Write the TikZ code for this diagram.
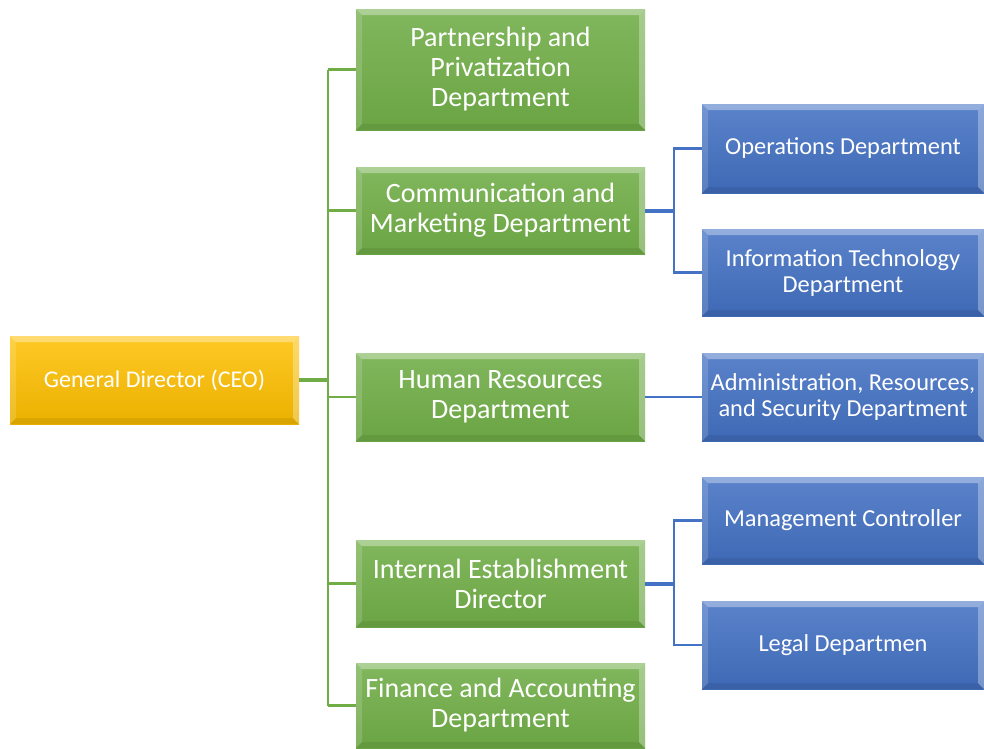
\documentclass[tikz,border=0pt]{standalone}
\usepackage{fontspec}
\setmainfont{Carlito}
\usetikzlibrary{positioning}

\definecolor{ceogold}{RGB}{255,192,0}
\definecolor{deptgreen}{RGB}{112,173,71}
\definecolor{unitblue}{RGB}{68,114,196}

\tikzset{
  bevel/.style={path picture={
    \fill[white,opacity=.35] (path picture bounding box.north west) -- (path picture bounding box.north east)
      -- ([shift={(-6pt,-6pt)}]path picture bounding box.north east) -- ([shift={(6pt,-6pt)}]path picture bounding box.north west) -- cycle;
    \fill[white,opacity=.15] (path picture bounding box.north west) -- (path picture bounding box.south west)
      -- ([shift={(6pt,6pt)}]path picture bounding box.south west) -- ([shift={(6pt,-6pt)}]path picture bounding box.north west) -- cycle;
    \fill[white,opacity=.3] (path picture bounding box.north east) -- (path picture bounding box.south east)
      -- ([shift={(-6pt,6pt)}]path picture bounding box.south east) -- ([shift={(-6pt,-6pt)}]path picture bounding box.north east) -- cycle;
    \fill[black,opacity=.07] (path picture bounding box.south west) -- (path picture bounding box.south east)
      -- ([shift={(-6pt,6pt)}]path picture bounding box.south east) -- ([shift={(6pt,6pt)}]path picture bounding box.south west) -- cycle;
  }},
  ceobox/.style={bevel, top color=ceogold!85!white, bottom color=ceogold!92!black, text=white,
    minimum width=289pt, minimum height=88pt, align=center, font=\fontsize{24}{28}\selectfont},
  deptbox/.style={bevel, top color=deptgreen!88!white, bottom color=deptgreen!95!black, text=white,
    minimum width=289pt, align=center, inner sep=0pt, font=\fontsize{28}{30}\selectfont},
  unitbox/.style={bevel, top color=unitblue!88!white, bottom color=unitblue!92!black, text=white,
    minimum width=282pt, align=center, inner sep=0pt, font=\fontsize{24.4}{26}\selectfont},
  greenline/.style={draw=deptgreen, line width=2.5pt},
  blueline/.style={draw=unitblue, line width=2.5pt},
}

\begin{document}
\begin{tikzpicture}[x=1pt,y=-1pt]
\useasboundingbox (0,0) rectangle (984,748);

% connectors first, boxes on top
\coordinate (trunk top) at (328,69.5);
\coordinate (trunk bot) at (328,705.5);
\draw[greenline] (trunk top) -- (trunk bot);
\coordinate (ceo stub) at (328,380);

\node[ceobox] (ceo) at (154.5,380) {General Director (CEO)};

\node[deptbox, minimum height=121pt] (partner) at (500.5,69.5) {Partnership and\\Privatization\\Department};
\node[deptbox, minimum height=87pt] (comm) at (500.5,210.5) {Communication and\\Marketing Department};
\node[deptbox, minimum height=88pt] (hr) at (500.5,397) {Human Resources\\Department};
\node[deptbox, minimum height=87pt] (internal) at (500.5,583.5) {Internal Establishment\\Director};
\node[deptbox, minimum height=85pt] (finance) at (500.5,705.5) {Finance and Accounting\\Department};

\node[unitbox, minimum height=89pt] (ops) at (843,148.5) {Operations Department};
\node[unitbox, minimum height=87pt] (it) at (843,272.5) {Information Technology\\Department};
\node[unitbox, minimum height=88pt] (admin) at (843,397) {Administration, Resources,\\and Security Department};
\node[unitbox, minimum height=87pt] (mgmt) at (843,520.5) {Management Controller};
\node[unitbox, minimum height=88pt] (legal) at (843,645) {Legal Departmen};

% CEO to the green trunk
\draw[draw=deptgreen, line width=4pt] (ceo.east) -- (ceo stub);
\foreach \d in {partner,comm,hr,internal,finance}
  \draw[greenline] (ceo stub |- \d.west) -- (\d.west);

% blue branches
\coordinate (comm fork) at (674,210.5);
\coordinate (int fork) at (674,583.5);
\draw[draw=unitblue, line width=4pt] (comm.east) -- (comm fork);
\draw[draw=unitblue, line width=4pt] (internal.east) -- (int fork);
\draw[blueline] (ops.west) -| (comm fork) |- (it.west);
\draw[blueline] (mgmt.west) -| (int fork) |- (legal.west);
\draw[blueline] (hr.east) -- (admin.west);
\end{tikzpicture}
\end{document}
